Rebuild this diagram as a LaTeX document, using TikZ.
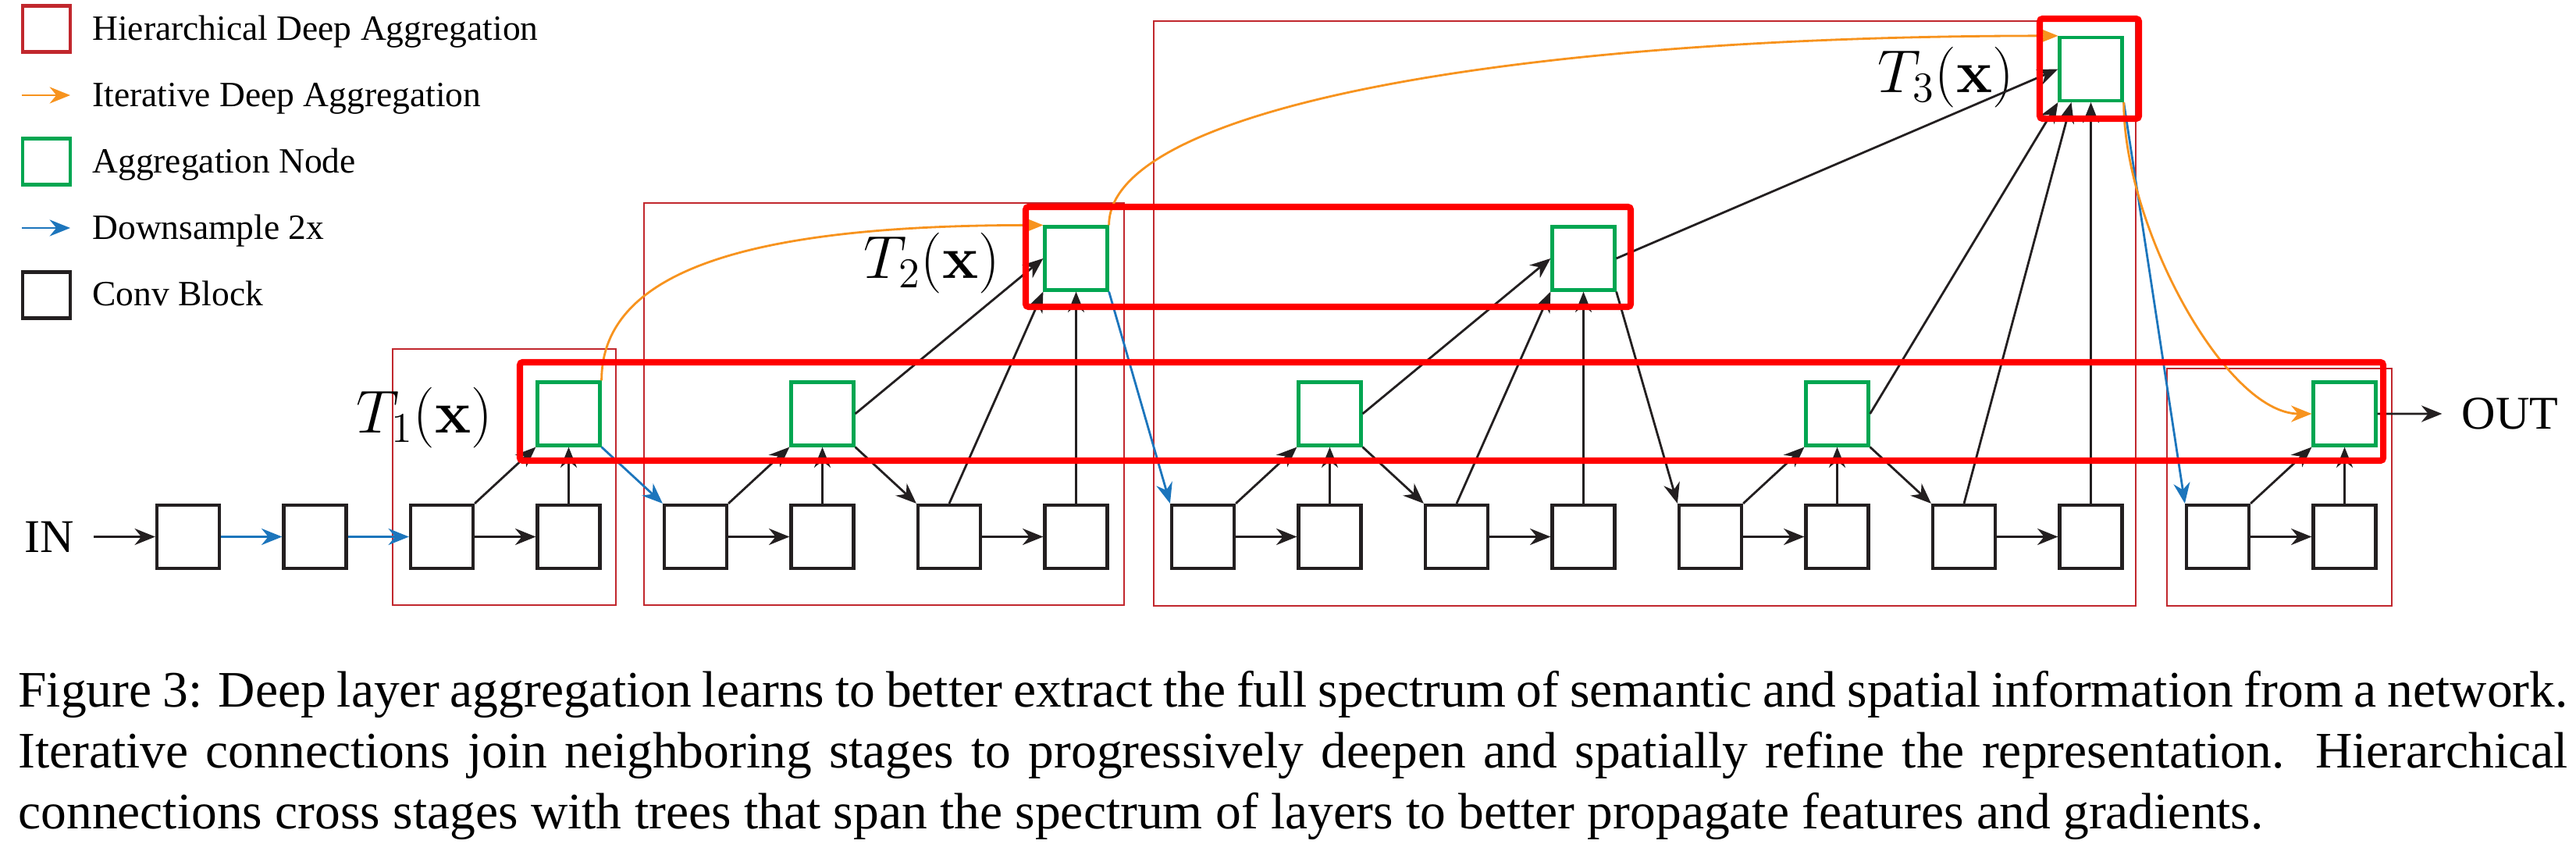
\RequirePackage{fix-cm}
\documentclass[tikz,border=0pt]{standalone}
\usepackage[no-math]{fontspec}
\setmainfont{Liberation Serif}
\usetikzlibrary{arrows.meta}

\definecolor{hdared}{RGB}{193,39,45}
\definecolor{treered}{RGB}{255,0,0}
\definecolor{idaorange}{RGB}{247,147,30}
\definecolor{dsblue}{RGB}{28,117,188}
\definecolor{aggreen}{RGB}{0,166,81}
\definecolor{convblack}{RGB}{35,31,32}

\begin{document}
\begin{tikzpicture}[>={Stealth[length=7.5pt,width=6pt]},node distance=1.625cm,
  thick,conv/.style={rectangle,draw=convblack,very thick,minimum width=0.8cm,minimum height=0.81cm},
  agg/.style={rectangle,draw=aggreen,very thick,minimum width=0.8cm,minimum height=0.81cm},
  legbox/.style={rectangle,very thick,minimum width=0.61cm,minimum height=0.59cm},
  conn/.style={->,color=convblack},
  ida/.style={->,color=idaorange},
  down/.style={->,color=dsblue},
  stage/.style={draw=hdared,line width=0.7pt},
  tree/.style={draw=treered,line width=2.3pt,rounded corners=1pt},
  tlab/.style={inner sep=0pt,anchor=base east,font=\fontsize{22.1pt}{26pt}\selectfont},
  legtext/.style={inner sep=0pt,anchor=base west,font=\fontsize{12.95pt}{15pt}\selectfont},
  iotext/.style={inner ysep=0pt,inner xsep=0.24cm,font=\fontsize{17.1pt}{20pt}\selectfont},
  captext/.style={inner sep=0pt,anchor=base west,text width=32.66cm,align=justify,
    font=\fontsize{18.64pt}{22.19pt}\selectfont}]
  \useasboundingbox (0,0) rectangle (33,-10.81);

  \node[legbox,draw=hdared] (k1) at (0.595,-0.37) {};
  \node[legtext] (k1t) at (1.17,-0.52) {Hierarchical Deep Aggregation};
  \coordinate (k2a) at (0.28,-1.22);
  \coordinate (k2b) at (0.90,-1.22);
  \node[legtext] (k2t) at (1.17,-1.37) {Iterative Deep Aggregation};
  \node[legbox,draw=aggreen] (k3) at (0.595,-2.07) {};
  \node[legtext] (k3t) at (1.17,-2.22) {Aggregation Node};
  \coordinate (k4a) at (0.28,-2.92);
  \coordinate (k4b) at (0.90,-2.92);
  \node[legtext] (k4t) at (1.17,-3.07) {Downsample 2x};
  \node[legbox,draw=convblack] (k5) at (0.595,-3.78) {};
  \node[legtext] (k5t) at (1.17,-3.92) {Conv Block};
  \draw[ida] (k2a) -- (k2b);
  \draw[down] (k4a) -- (k4b);

  \draw[stage] (5.03,-4.47) rectangle (7.89,-7.75);
  \draw[stage] (8.25,-2.60) rectangle (14.40,-7.75);
  \draw[stage] (14.78,-0.27) rectangle (27.36,-7.76);
  \draw[stage] (27.76,-4.72) rectangle (30.64,-7.76);

  \node[iotext] (in) at (0.63,-6.875) {IN};
  \node[conv] (b1) at (2.41,-6.875) {};
  \node[conv] (b2) [right of=b1] {};
  \node[conv] (b3) [right of=b2] {};
  \node[conv] (b4) [right of=b3] {};
  \node[conv] (b5) [right of=b4] {};
  \node[conv] (b6) [right of=b5] {};
  \node[conv] (b7) [right of=b6] {};
  \node[conv] (b8) [right of=b7] {};
  \node[conv] (b9) [right of=b8] {};
  \node[conv] (b10) [right of=b9] {};
  \node[conv] (b11) [right of=b10] {};
  \node[conv] (b12) [right of=b11] {};
  \node[conv] (b13) [right of=b12] {};
  \node[conv] (b14) [right of=b13] {};
  \node[conv] (b15) [right of=b14] {};
  \node[conv] (b16) [right of=b15] {};
  \node[conv] (b17) [right of=b16] {};
  \node[conv] (b18) [right of=b17] {};

  \node[agg] (a1) [node distance=1.575cm,above of=b4] {};
  \node[agg] (a2) [node distance=1.575cm,above of=b6] {};
  \node[agg] (r2) [node distance=3.565cm,above of=b8] {};
  \node[agg] (a3) [node distance=1.575cm,above of=b10] {};
  \node[agg] (m3) [node distance=3.565cm,above of=b12] {};
  \node[agg] (a4) [node distance=1.575cm,above of=b14] {};
  \node[agg] (r3) [node distance=5.99cm,above of=b16] {};
  \node[agg] (a5) [node distance=1.575cm,above of=b18] {};
  \node[iotext] (out) at (32.155,-5.30) {OUT};

  \node[tlab] (t1lab) at ([xshift=-0.54cm,yshift=-0.25cm]a1.west) {$T_1(\mathbf{x})$};
  \node[tlab] (t2lab) at ([xshift=-0.54cm,yshift=-0.26cm]r2.west) {$T_2(\mathbf{x})$};
  \node[tlab] (t3lab) at ([xshift=-0.55cm,yshift=-0.30cm]r3.west) {$T_3(\mathbf{x})$};

  \path[conn]
    (in) edge (b1)
    (b3) edge (b4)
    (b3.north east) edge (a1.south west)
    (b4) edge (a1)
    (b5) edge (b6)
    (b5.north east) edge (a2.south west)
    (b6) edge (a2)
    (a2.south east) edge (b7.north west)
    (b7) edge (b8)
    (a2.east) edge (r2.west)
    (b7.north) edge (r2.south west)
    (b8) edge (r2)
    (b9) edge (b10)
    (b9.north east) edge (a3.south west)
    (b10) edge (a3)
    (a3.south east) edge (b11.north west)
    (b11) edge (b12)
    (a3.east) edge (m3.west)
    (b11.north) edge (m3.south west)
    (b12) edge (m3)
    (m3.south east) edge (b13.north west)
    (b13) edge (b14)
    (b13.north east) edge (a4.south west)
    (b14) edge (a4)
    (a4.south east) edge (b15.north west)
    (b15) edge (b16)
    (m3.east) edge (r3.west)
    (a4.east) edge (r3.south west)
    (b15.north) edge ([xshift=-0.25cm]r3.south)
    (b16) edge (r3)
    (b17) edge (b18)
    (b17.north east) edge (a5.south west)
    (b18) edge (a5)
    (a5) edge (out);

  \path[down]
    (b1) edge (b2)
    (b2) edge (b3)
    (a1.south east) edge (b5.north west)
    (r2.south east) edge (b9.north west)
    (r3.south east) edge (b17.north west);

  \path[ida]
    (a1.north east) edge [out=90,in=180,out distance=1.5cm,in distance=3.5cm] (r2.north west)
    (r2.north east) edge [out=90,in=180,out distance=1.5cm,in distance=7cm] (r3.north west)
    (r3.south east) edge [out=-90,in=180,out distance=1.6cm,in distance=1.1cm] (a5.west);

  \draw[tree] (6.66,-4.64) rectangle (30.53,-5.90);
  \draw[tree] (13.14,-2.65) rectangle (20.89,-3.93);
  \draw[tree] (26.13,-0.24) rectangle (27.40,-1.52);

  \node[captext] (cap) at (0.22,-9.06) {Figure 3: Deep layer aggregation learns to better extract the full spectrum of semantic and spatial information from a network.\linebreak Iterative connections join neighboring stages to progressively deepen and spatially refine the representation. Hierarchical\linebreak connections cross stages with trees that span the spectrum of layers to better propagate features and gradients.};
\end{tikzpicture}
\end{document}
